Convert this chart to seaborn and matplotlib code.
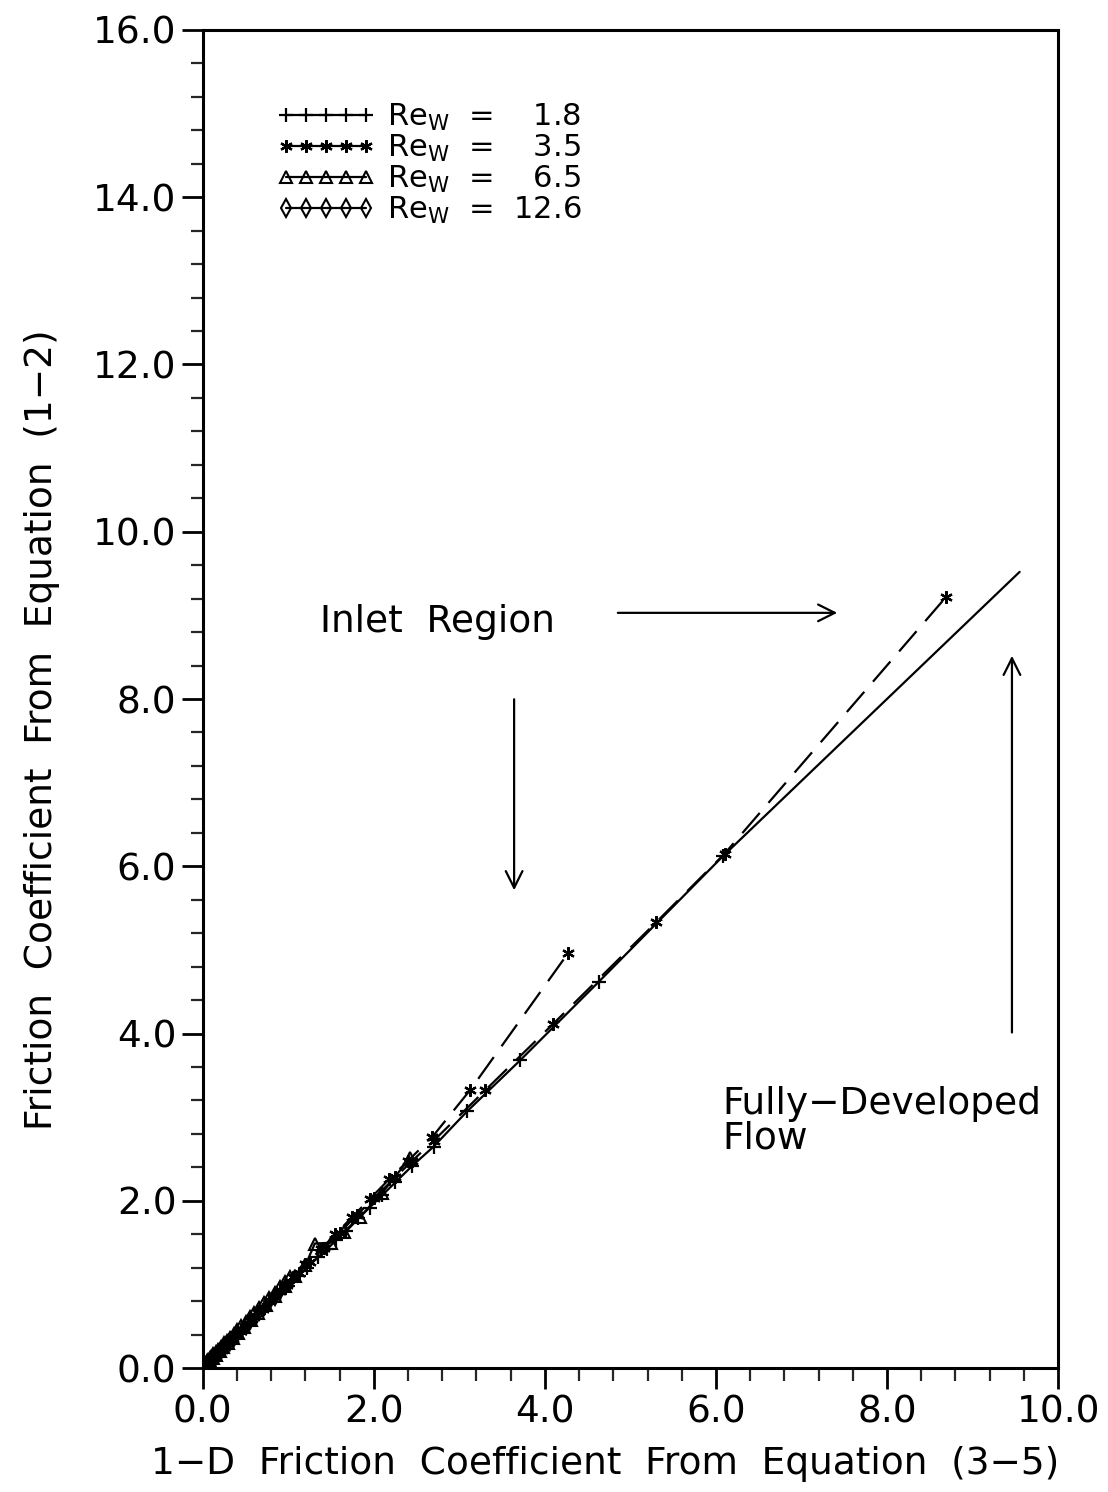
import numpy as np
import pandas as pd
import seaborn as sns
import matplotlib.pyplot as plt
from matplotlib.lines import Line2D
from matplotlib.ticker import MultipleLocator, FormatStrFormatter

# Re_w = 1.8  (plus markers, solid)
re18_x = [0.0, 0.02, 0.05, 0.08, 0.12, 0.16, 0.22, 0.28, 0.35, 0.45, 0.55, 0.66, 0.78, 0.9, 1.0, 1.12, 1.22, 1.35, 1.45, 1.56, 1.68, 1.82, 1.95, 2.1, 2.25, 2.45, 2.7, 3.09, 3.71, 4.63, 6.08, 9.55]
re18_y = [0.0, 0.02, 0.05, 0.08, 0.12, 0.16, 0.22, 0.28, 0.35, 0.44, 0.54, 0.65, 0.77, 0.89, 0.98, 1.1, 1.2, 1.33, 1.42, 1.53, 1.64, 1.79, 1.92, 2.07, 2.22, 2.42, 2.65, 3.07, 3.68, 4.62, 6.12, 9.52]

# Re_w = 3.5  (asterisk markers, dashed) - two runs
re35a_x = [0.0, 0.03, 0.07, 0.12, 0.18, 0.25, 0.35, 0.45, 0.58, 0.7, 0.85, 0.98, 1.12, 1.25, 1.42, 1.6, 1.8, 2.0, 2.25, 2.45, 2.7, 3.3, 4.1, 5.3, 6.1, 8.69]
re35a_y = [0.0, 0.03, 0.07, 0.12, 0.18, 0.25, 0.35, 0.45, 0.59, 0.71, 0.86, 0.99, 1.14, 1.27, 1.44, 1.62, 1.83, 2.03, 2.28, 2.48, 2.72, 3.32, 4.12, 5.33, 6.15, 9.22]
re35b_x = [0.0, 0.02, 0.04, 0.07, 0.1, 0.14, 0.18, 0.24, 0.3, 0.38, 0.45, 0.55, 0.65, 0.78, 0.9, 1.05, 1.2, 1.38, 1.55, 1.75, 1.95, 2.18, 2.4, 2.68, 3.13, 4.27]
re35b_y = [0.0, 0.02, 0.04, 0.07, 0.1, 0.14, 0.19, 0.25, 0.31, 0.4, 0.47, 0.57, 0.67, 0.81, 0.93, 1.09, 1.24, 1.42, 1.6, 1.81, 2.02, 2.26, 2.48, 2.76, 3.33, 4.96]

# Re_w = 6.5  (triangle markers)
re65_x = [0.0, 0.01, 0.02, 0.04, 0.06, 0.09, 0.12, 0.16, 0.2, 0.24, 0.29, 0.35, 0.41, 0.48, 0.56, 0.64, 0.74, 0.84, 0.96, 1.08, 1.2, 1.31, 1.5, 1.65, 1.84, 2.1, 2.42]
re65_y = [0.0, 0.01, 0.02, 0.04, 0.06, 0.09, 0.12, 0.16, 0.2, 0.25, 0.3, 0.36, 0.42, 0.49, 0.57, 0.66, 0.76, 0.86, 0.98, 1.1, 1.23, 1.49, 1.5, 1.63, 1.81, 2.1, 2.51]

# Re_w = 12.6 (diamond markers)
re126_x = [0.0, 0.005, 0.01, 0.02, 0.03, 0.045, 0.06, 0.08, 0.1, 0.125, 0.15, 0.18, 0.21, 0.25, 0.28, 0.32, 0.36, 0.4, 0.45, 0.5, 0.55, 0.6, 0.66, 0.72, 0.78, 0.84, 0.9, 0.96, 1.02]
re126_y = [0.0, 0.005, 0.01, 0.02, 0.03, 0.046, 0.062, 0.082, 0.103, 0.13, 0.155, 0.186, 0.218, 0.26, 0.29, 0.33, 0.37, 0.415, 0.465, 0.52, 0.57, 0.62, 0.68, 0.74, 0.8, 0.86, 0.93, 0.99, 1.05]

legend_labels = ['Re$_{\\mathrm{W}}$  =    1.8', 'Re$_{\\mathrm{W}}$  =    3.5',
                 'Re$_{\\mathrm{W}}$  =    6.5', 'Re$_{\\mathrm{W}}$  =  12.6']

sns.set_style('ticks')
plt.rcParams['font.family'] = ['DejaVu Sans']
plt.rcParams['mathtext.default'] = 'regular'
plt.rcParams['text.color'] = 'black'
plt.rcParams['axes.labelcolor'] = 'black'

fig = plt.figure(figsize=(11.08, 14.92), dpi=100)
ax = fig.add_axes([0.183, 0.083, 0.772, 0.897])

asterisk = (6, 2, 0)
lw = 1.6
dash = (0, (12, 6))
mk = dict(color='black', markeredgecolor='black', lw=lw, sort=False, estimator=None)
sns.lineplot(x=re18_x, y=re18_y, ax=ax, marker='+', markersize=10, markeredgewidth=1.6,
             markevery=list(range(len(re18_x) - 1)), **mk)
sns.lineplot(x=re35a_x, y=re35a_y, ax=ax, linestyle=dash, marker=asterisk,
             markersize=9, markeredgewidth=1.6, **mk)
sns.lineplot(x=re35b_x, y=re35b_y, ax=ax, linestyle=dash, marker=asterisk,
             markersize=9, markeredgewidth=1.6, **mk)
sns.lineplot(x=re65_x, y=re65_y, ax=ax, marker='^', markersize=9,
             markerfacecolor='none', markeredgewidth=1.5, **mk)
sns.lineplot(x=re126_x, y=re126_y, ax=ax, marker='d', markersize=9,
             markerfacecolor='none', markeredgewidth=1.5, **mk)

ax.set_xlim(0, 10)
ax.set_ylim(0, 16)
ax.xaxis.set_major_locator(MultipleLocator(2))
ax.xaxis.set_minor_locator(MultipleLocator(0.4))
ax.yaxis.set_major_locator(MultipleLocator(2))
ax.yaxis.set_minor_locator(MultipleLocator(0.4))
ax.xaxis.set_major_formatter(FormatStrFormatter('%.1f'))
ax.yaxis.set_major_formatter(FormatStrFormatter('%.1f'))
ax.tick_params(which='major', direction='out', length=15, width=2, labelsize=27, pad=4, colors='black')
ax.tick_params(which='minor', direction='out', length=9, width=1.6)
for s in ax.spines.values():
    s.set_linewidth(2.2)
    s.set_color('black')
    s.set_visible(True)

ax.set_xlabel('1\u2212D  Friction  Coefficient  From  Equation  (3\u22125)', fontsize=27)
ax.set_ylabel('Friction  Coefficient  From  Equation  (1\u22122)', fontsize=27)
ax.xaxis.set_label_coords(0.47, -0.058)
ax.yaxis.set_label_coords(-0.167, 0.477)

# annotations
ax.text(1.37, 8.92, 'Inlet  Region', fontsize=27, va='center', ha='left')
ax.annotate('', xy=(7.45, 9.03), xytext=(4.82, 9.03),
            arrowprops=dict(arrowstyle='->', lw=1.6, color='black', mutation_scale=30))
ax.annotate('', xy=(3.64, 5.68), xytext=(3.64, 8.03),
            arrowprops=dict(arrowstyle='->', lw=1.6, color='black', mutation_scale=30))
ax.text(6.07, 2.95, 'Fully\u2212Developed\nFlow', fontsize=27, va='center', ha='left', linespacing=0.95)
ax.annotate('', xy=(9.46, 8.55), xytext=(9.46, 3.98),
            arrowprops=dict(arrowstyle='->', lw=1.6, color='black', mutation_scale=30))

handles = [
    Line2D([], [], color='black', lw=1.6, marker='+', markersize=10, markeredgewidth=1.6),
    Line2D([], [], color='black', lw=1.6, marker=asterisk, markersize=9, markeredgewidth=1.6),
    Line2D([], [], color='black', lw=1.6, marker='^', markersize=9, markerfacecolor='none', markeredgewidth=1.5),
    Line2D([], [], color='black', lw=1.6, marker='d', markersize=9, markerfacecolor='none', markeredgewidth=1.5),
]
ax.legend(handles, legend_labels, loc='upper left', bbox_to_anchor=(0.055, 0.967), frameon=False,
          fontsize=22, numpoints=5, handlelength=3.2, handletextpad=0.4, labelspacing=0.0)

fig.savefig('out.png', dpi=100)
